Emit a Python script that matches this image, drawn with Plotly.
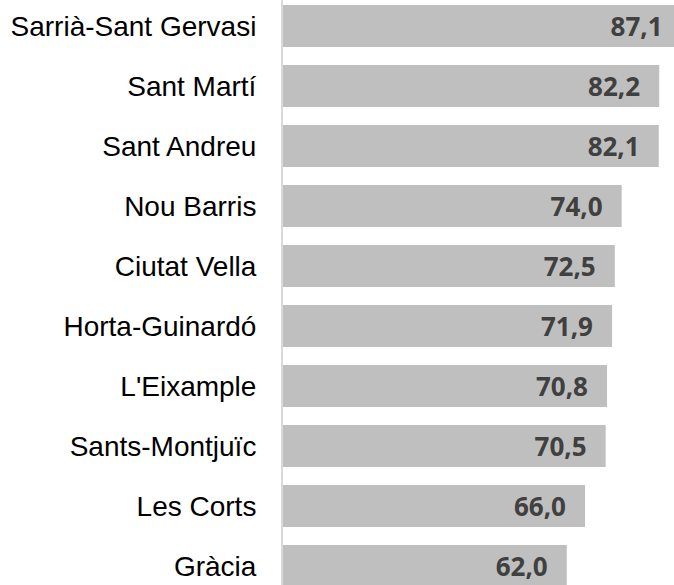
import plotly.graph_objects as go

districts = ["Sarrià-Sant Gervasi", "Sant Martí", "Sant Andreu", "Nou Barris",
             "Ciutat Vella", "Horta-Guinardó", "L'Eixample", "Sants-Montjuïc",
             "Les Corts", "Gràcia"]
values = [87.1, 82.2, 82.1, 74.0, 72.5, 71.9, 70.8, 70.5, 66.0, 62.0]

fig = go.Figure(go.Bar(
    x=values,
    y=districts,
    orientation="h",
    marker=dict(color="#BFBFBF", line=dict(width=0)),
    texttemplate="%{x:.1f}\u00a0\u00a0\u200a",
    textposition="inside",
    insidetextanchor="end",
    textangle=0,
    insidetextfont=dict(family="Open Sans", size=26, color="#404040", weight="bold"),
    cliponaxis=False,
    hoverinfo="skip",
))

# The reference is cropped on the right: the plot area runs past the 674px window.
fig.update_layout(
    width=700, height=585,
    margin=dict(l=283, r=0, t=0, b=0, pad=0),
    plot_bgcolor="white", paper_bgcolor="white",
    separators=",.",
    bargap=0.3,
    showlegend=False,
    xaxis=dict(range=[0, 91.11], visible=False, fixedrange=True),
    yaxis=dict(
        type="category",
        categoryorder="array", categoryarray=districts,
        range=[9.3167, -0.4333],
        showline=True, linecolor="#D9D9D9", linewidth=2,
        showgrid=False, zeroline=False,
        ticks="", ticklabelstandoff=19,
        tickfont=dict(family="Liberation Sans, Arial", size=28, color="#000000"),
        fixedrange=True,
    ),
)

fig.write_html(
    "out.html",
    config={"displayModeBar": False},
    post_script="document.body.style.margin='0';document.body.style.overflow='hidden';",
)
